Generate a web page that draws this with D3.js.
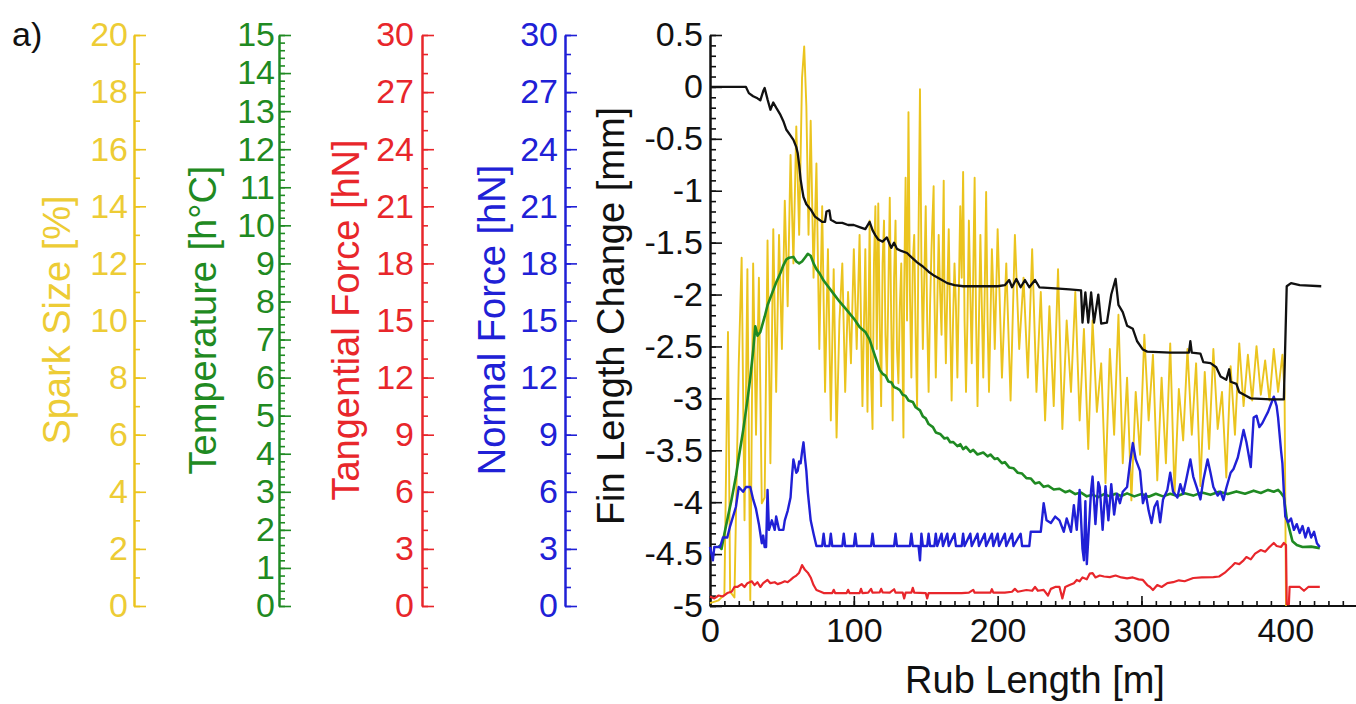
<!DOCTYPE html>
<html><head><meta charset="utf-8">
<script src="https://cdn.jsdelivr.net/npm/d3@7"></script>
<style>
body{margin:0;background:#fff}
svg{display:block}
text{font-family:"Liberation Sans",Arial,sans-serif}
</style>
</head><body>
<svg id="c" width="1356" height="704"></svg>
<script>
// ---------------- DATA ----------------
const sparkTicks = [0,2,4,6,8,10,12,14,16,18,20];
const tempTicks = [0,1,2,3,4,5,6,7,8,9,10,11,12,13,14,15];
const tangTicks = [0,3,6,9,12,15,18,21,24,27,30];
const normTicks = [0,3,6,9,12,15,18,21,24,27,30];
const finTicks = [0.5,0,-0.5,-1,-1.5,-2,-2.5,-3,-3.5,-4,-4.5,-5];
const rubTicks = [0,100,200,300,400];

// [rub length m, fin length change mm]
const finLength = [[0,0],[25,0],[27,-0.06],[30,-0.09],[33,-0.11],[35,-0.13],[37,-0.04],[38,-0.01],[40,-0.12],[42,-0.22],[44,-0.15],[46,-0.2],[49,-0.27],[51,-0.33],[53,-0.41],[56,-0.47],[58,-0.51],[60,-0.58],[61,-0.64],[62,-0.75],[63,-0.89],[64,-0.98],[65,-1.06],[67,-1.13],[70,-1.18],[73,-1.25],[76,-1.28],[78,-1.3],[80,-1.3],[81,-1.2],[83,-1.19],[84,-1.28],[88,-1.31],[92,-1.31],[96,-1.33],[100,-1.33],[104,-1.35],[108,-1.37],[111,-1.3],[113,-1.38],[115,-1.43],[117,-1.47],[120,-1.49],[123,-1.45],[126,-1.55],[128,-1.5],[130,-1.56],[133,-1.58],[137,-1.6],[140,-1.64],[144,-1.69],[148,-1.73],[152,-1.78],[156,-1.82],[160,-1.85],[165,-1.89],[170,-1.91],[176,-1.92],[190,-1.92],[200,-1.92],[205,-1.91],[208,-1.86],[210,-1.93],[213,-1.85],[216,-1.93],[219,-1.86],[222,-1.93],[226,-1.86],[229,-1.93],[240,-1.94],[250,-1.95],[258,-1.96],[259,-2.27],[261,-1.98],[263,-2.27],[265,-1.98],[267,-2.27],[270,-2.0],[272,-2.28],[276,-2.27],[279,-2.0],[282,-1.85],[284,-2.1],[287,-2.17],[290,-2.3],[294,-2.33],[297,-2.45],[301,-2.53],[304,-2.55],[320,-2.56],[333,-2.56],[334,-2.45],[335,-2.56],[341,-2.57],[343,-2.65],[348,-2.66],[352,-2.7],[355,-2.79],[359,-2.82],[361,-2.72],[362,-2.84],[366,-2.86],[368,-2.94],[372,-2.97],[376,-3.0],[390,-3.01],[399,-3.01],[401,-1.92],[404,-1.89],[410,-1.91],[425,-1.92]];

// [rub length m, temperature h°C]
const temperature = [[6,1.6],[8,1.5],[10,1.9],[12.5,2.35],[15,2.8],[18,3.4],[20,3.9],[23,4.6],[26,5.4],[28,6.0],[30,6.7],[31.5,7.35],[33,7.1],[35,7.2],[38,7.6],[40,7.9],[43,8.2],[46,8.5],[49,8.75],[51,8.95],[53,9.1],[55,9.15],[58,9.17],[60,9.05],[62,9.0],[64,9.05],[66,9.15],[68,9.25],[70,9.2],[72,9.0],[74,8.85],[76,8.75],[79,8.55],[82,8.4],[86,8.2],[90,8.0],[95,7.78],[100,7.55],[104,7.33],[108,7.2],[111,7.0],[114,6.65],[118,6.2],[120,6.1],[122,6.05],[124,5.9],[126,5.88],[128,5.75],[130,5.72],[132,5.67],[134,5.55],[136,5.52],[138,5.4],[141,5.36],[143,5.22],[146,5.14],[148,4.98],[150,4.93],[152,4.78],[155,4.7],[157,4.56],[160,4.52],[163,4.4],[165,4.42],[167,4.3],[169,4.31],[172,4.2],[174,4.25],[176,4.12],[178,4.18],[181,4.05],[183,4.1],[186,3.98],[190,4.03],[193,3.93],[195,3.98],[198,3.86],[200,3.88],[203,3.75],[205,3.78],[208,3.64],[211,3.62],[214,3.5],[217,3.48],[220,3.36],[223,3.35],[226,3.22],[229,3.25],[232,3.13],[235,3.16],[239,3.06],[243,3.08],[247,2.99],[250,3.03],[254,2.94],[258,2.98],[262,2.88],[266,2.92],[270,2.86],[274,2.94],[278,2.88],[282,2.95],[286,2.89],[290,2.96],[295,2.88],[300,2.94],[305,2.87],[310,2.95],[315,2.88],[320,2.95],[325,2.89],[330,2.96],[336,2.9],[342,2.98],[348,2.92],[354,3.0],[360,2.94],[366,3.01],[372,2.95],[378,3.03],[383,2.97],[388,3.05],[392,3.0],[395,3.05],[397,2.97],[399,2.86],[401,2.3],[403,2.0],[405,1.7],[408,1.6],[412,1.55],[418,1.56],[424,1.52]];

// [rub length m, tangential force hN]
const tangentialForce = [[0,0.5],[3,0.4],[6,0.55],[9,0.5],[12,0.68],[15,0.75],[17,1.0],[19,1.0],[22,1.15],[24,1.0],[26,1.2],[29,1.3],[31,1.1],[33,1.25],[35,1.0],[37,1.2],[40,1.37],[42,1.2],[45,1.25],[47,1.15],[49,1.2],[52,1.3],[54,1.25],[56,1.37],[58,1.5],[60,1.6],[62,1.75],[64,2.15],[66,1.9],[68,1.75],[70,1.5],[72,1.1],[74,0.84],[77,0.75],[79,0.68],[85,0.68],[86,0.85],[87,0.68],[95,0.68],[96,0.85],[97,0.68],[104,0.68],[105,0.9],[106,0.68],[110,0.7],[112,0.9],[113,0.7],[118,0.72],[119,0.9],[120,0.72],[125,0.7],[128,0.88],[129,0.7],[134,0.7],[135,0.4],[136,0.7],[140,0.7],[141,0.95],[142,0.7],[150,0.68],[151,0.4],[152,0.68],[160,0.68],[170,0.68],[175,0.68],[180,0.7],[183,0.85],[184,0.7],[190,0.7],[195,0.7],[196,0.88],[197,0.7],[205,0.7],[210,0.75],[212,0.9],[214,0.75],[220,0.84],[224,0.8],[226,1.0],[228,0.8],[232,0.85],[235,0.55],[237,0.9],[240,1.0],[243,1.0],[245,0.4],[247,1.0],[250,1.1],[253,1.2],[255,1.37],[257,1.3],[259,1.5],[262,1.4],[264,1.7],[266,1.73],[268,1.5],[271,1.6],[274,1.55],[278,1.52],[282,1.6],[286,1.5],[290,1.45],[294,1.5],[298,1.4],[301,1.37],[304,1.1],[306,1.0],[308,0.84],[311,1.1],[314,1.0],[318,1.2],[322,1.25],[326,1.35],[330,1.3],[336,1.47],[342,1.5],[350,1.52],[354,1.55],[358,1.75],[360,1.89],[363,2.1],[365,2.26],[368,2.2],[371,2.4],[373,2.57],[376,2.45],[379,2.75],[383,2.94],[386,2.85],[389,3.1],[392,3.31],[394,3.15],[397,3.1],[399,3.31],[400.5,3.2],[401,0.1],[402.5,0.1],[403,1.0],[410,1.0],[413,0.8],[416,1.0],[424,1.0]];

// [rub length m, normal force hN]
const normalForce = [[0,3.1],[2,2.4],[3,3.1],[7,3.1],[9,3.6],[12,3.6],[14,4.2],[16,4.7],[18,5.2],[20,6.25],[23,6.0],[25,6.25],[28,6.25],[30,5.6],[32,5.1],[34,4.3],[36,3.3],[37,3.7],[38,3.1],[39,3.1],[40,6.1],[41,4.0],[43,4.5],[45,4.0],[46,4.7],[48,4.0],[51,4.0],[52,4.5],[54,5.0],[56,5.7],[57,6.8],[58,7.7],[60,7.0],[61,7.1],[62,7.6],[63,7.5],[64,8.1],[65,8.6],[66,7.8],[67,7.1],[68,6.0],[70,4.5],[72,3.8],[74,3.15],[78,3.15],[79,3.8],[80,3.15],[83,3.15],[84,3.8],[85,3.15],[92,3.15],[93,3.8],[94,3.15],[100,3.15],[101,3.8],[102,3.15],[112,3.15],[113,3.8],[114,3.15],[128,3.15],[129,3.8],[130,3.15],[139,3.15],[140,3.8],[141,3.15],[145,3.15],[146,2.4],[147,3.8],[148,3.15],[151,3.15],[152,3.8],[153,3.15],[156,3.15],[157,3.8],[158,3.15],[161,3.8],[162,3.15],[165,3.8],[166,3.15],[170,3.8],[171,3.15],[175,3.15],[176,3.8],[177,3.15],[181,3.8],[182,3.15],[186,3.8],[187,3.15],[191,3.8],[192,3.15],[196,3.8],[197,3.15],[200,3.8],[201,3.15],[205,3.8],[206,3.15],[210,3.8],[211,3.15],[216,3.8],[217,3.15],[222,3.15],[223,3.9],[230,3.9],[232,5.4],[234,4.5],[237,4.36],[240,4.7],[243,4.5],[246,3.9],[248,4.6],[251,3.9],[253,5.3],[255,4.0],[257,6.1],[259,3.0],[260,2.4],[261,5.5],[262,2.2],[263,3.5],[265,6.1],[266,6.8],[268,4.3],[270,6.5],[271,6.25],[273,4.0],[275,6.3],[277,4.5],[279,6.4],[281,4.8],[283,5.9],[285,5.4],[287,6.0],[290,6.25],[292,7.5],[294,8.56],[296,7.7],[299,7.1],[301,5.4],[303,5.9],[305,5.0],[307,4.36],[309,5.2],[311,5.5],[313,4.4],[315,5.6],[318,6.1],[320,7.0],[322,6.0],[325,5.7],[327,6.4],[329,5.9],[331,6.6],[334,7.7],[336,6.8],[339,6.1],[341,5.6],[343,6.6],[346,7.7],[348,7.0],[350,6.25],[353,5.8],[355,6.0],[357,5.57],[359,6.2],[362,7.0],[364,7.2],[367,7.8],[369,8.5],[371,9.25],[373,8.6],[376,7.3],[378,9.9],[380,10.0],[382,9.4],[384,9.6],[386,9.9],[388,10.2],[390,10.6],[392,11.0],[394,10.5],[395,9.9],[397,8.2],[398,7.5],[399,6.0],[400,4.7],[402,4.4],[404,4.6],[406,4.0],[408,4.3],[410,3.84],[412,4.2],[414,3.6],[416,4.1],[418,3.6],[420,3.9],[422,3.3],[424,3.1]];

// [rub length m, spark size %]
const sparkSize = [[0,0.1],[6,0.2],[10,0.4],[12.5,9.6],[14,0.5],[17,0.3],[20,8.5],[22,12.2],[24,3],[26,11.8],[28,0.2],[30,12],[32,6],[34,11.5],[36,3.6],[38,3.8],[40,12.8],[42,5],[44,13.2],[46,7.5],[48,13],[50,9],[52,14.2],[54,10.5],[56,15.8],[58,12],[60,16.8],[62,13],[64,18.5],[65.5,19.6],[67,17.5],[68.5,13],[70,17],[72,11.5],[74,15.5],[76,9],[78,14],[80,7.5],[82,12.5],[84,6.5],[86,11.8],[88,5.9],[90,10],[92,12],[94,7.5],[96,11],[98,8.5],[100,12.5],[102,9],[104,13],[106,7],[108,12.5],[109.5,6.8],[111,13.5],[112,8],[113,6.2],[114,12],[115,14],[116,9],[117,14.1],[118,10],[119,7],[120,12],[121,13.5],[122,9.5],[123,8],[124,11],[125,14.3],[126,10],[127,6.5],[128,11.5],[129,13.5],[130,9],[131,7.8],[132,10.5],[133,12],[134,8],[134.5,5.9],[135,11],[136,15],[137,10],[138,17.3],[139,11],[140,8],[141,12],[142,13],[143,9.5],[144,7],[145,13],[146,18.1],[147,12],[148,9],[149,11.5],[150,14],[151,10],[152,7.5],[153,10.5],[154,12.5],[155.5,14.7],[156,11],[157,8],[158,10.5],[159,13],[160,11],[161,9.5],[162.5,14.9],[163,11],[164,8.5],[165,11],[166,13.2],[167,10],[168,7.2],[169,10],[170,12],[171,10.5],[172,8],[173,11],[174,14],[175,11.5],[176,15.2],[177,10],[178,7.5],[179,10],[180,13.5],[181,11],[182,8.5],[183,11.5],[184,15],[185,10],[186,7],[187,10],[188,13],[189,10.5],[190,8],[191,11],[192,14.5],[193,10],[194,7.5],[195,10],[196,12.5],[197,11],[198,9],[199,11],[200,13.2],[203,8],[206,12],[209,7.2],[212,13],[215,9],[218,11.5],[221,8],[224,12.5],[227,7.5],[230,11],[233,6.5],[236,10.5],[239,7],[242,11.8],[245,6.2],[248,10],[251,7.5],[254,11],[257,6.5],[260,9.7],[263,5.5],[266,10],[269,6.8],[272,8.5],[275,4.3],[278,9],[281,6],[284,10.2],[287,5],[290,8],[293,3.7],[296,7.5],[299,5.3],[302,9.5],[305,6.5],[308,8.8],[311,4.4],[314,8],[317,5],[320,9.2],[323,3.9],[326,7.6],[329,5.8],[332,9],[335,6],[338,8.5],[341,4.2],[344,8.2],[347,5.5],[350,9],[353,6.2],[356,7.5],[359,4.5],[362,8.4],[365,6],[368,9.2],[371,7],[374,8.8],[377,7.2],[380,9.1],[383,7.4],[386,8.6],[389,7.2],[392,9],[395,7.5],[398,8.8],[399.5,7.5],[400.5,0]];

// ---------------- LAYOUT / STYLE ----------------
const C = {spark:"#EBC41E", sparkText:"#EDCC35", temp:"#1F8A22", tang:"#E8262B", norm:"#2020D6", fin:"#111111"};
const TICK_FS = 34, TITLE_FS = 38;
const yTop = 35, yBot = 606;

const svg = d3.select("#c");

const x = d3.scaleLinear().domain([0, 445]).range([710, 1350]);
const ySpark = d3.scaleLinear().domain([0, 20]).range([yBot, yTop]);
const yTemp = d3.scaleLinear().domain([0, 15]).range([yBot, yTop]);
const yTang = d3.scaleLinear().domain([0, 30]).range([yBot, yTop]);
const yNorm = d3.scaleLinear().domain([0, 30]).range([yBot, yTop]);
const yFin = d3.scaleLinear().domain([-5, 0.5]).range([yBot, yTop]);

function styleAxis(g, color, textColor) {
  g.select(".domain").attr("stroke", color).attr("stroke-width", 2);
  g.selectAll(".tick line").attr("stroke", color).attr("stroke-width", 1.6);
  g.selectAll(".tick text").attr("fill", textColor || color).style("font-size", TICK_FS + "px")
    .style("font-family", '"Liberation Sans", Arial, sans-serif');
}

function leftAxis(xPos, scale, majors, minors, color, pad, textColor) {
  const gMin = svg.append("g").attr("transform", `translate(${xPos},0)`);
  gMin.call(d3.axisLeft(scale).tickValues(minors).tickSizeInner(-6).tickSizeOuter(0).tickFormat(""));
  styleAxis(gMin, color);
  const gMaj = svg.append("g").attr("transform", `translate(${xPos},0)`);
  gMaj.call(d3.axisLeft(scale).tickValues(majors).tickSizeInner(-12).tickSizeOuter(0)
    .tickPadding(pad).tickFormat(d => String(d)));
  styleAxis(gMaj, color, textColor);
  return gMaj;
}

function title(txt, cx, cy, color) {
  svg.append("text")
    .attr("transform", `translate(${cx},${cy}) rotate(-90)`)
    .attr("text-anchor", "middle").attr("dy", "0.35em")
    .attr("fill", color).style("font-size", TITLE_FS + "px")
    .text(txt);
}

// panel label
svg.append("text").attr("x", 12).attr("y", 46).attr("fill", "#111")
  .style("font-size", "34px").text("a)");

// left stacked axes
leftAxis(134, ySpark, sparkTicks, d3.range(0, 20.001, 1), C.spark, 6, C.sparkText);
title("Spark Size [%]", 57, 320, C.sparkText);

leftAxis(279, yTemp, tempTicks, d3.range(0, 15.001, 0.2), C.temp, 4);
title("Temperature [h°C]", 203, 320, C.temp);

leftAxis(422, yTang, tangTicks, d3.range(0, 30.001, 1), C.tang, 8);
title("Tangential Force [hN]", 346, 320, C.tang);

leftAxis(565, yNorm, normTicks, d3.range(0, 30.001, 1), C.norm, 7);
title("Normal Force [hN]", 492, 320, C.norm);

// main y axis
leftAxis(710, yFin, finTicks, d3.range(-5, 0.5001, 0.1), C.fin, 7);
title("Fin Length Change [mm]", 611, 316, C.fin);

// x axis
const gxMin = svg.append("g").attr("transform", `translate(0,${yBot})`);
gxMin.call(d3.axisBottom(x).tickValues(d3.range(0, 441, 10)).tickSizeInner(-5).tickSizeOuter(0).tickFormat(""));
styleAxis(gxMin, C.fin);
gxMin.select(".domain").attr("d", `M710,0H1356`);
const gx = svg.append("g").attr("transform", `translate(0,${yBot})`);
gx.call(d3.axisBottom(x).tickValues(rubTicks).tickSizeInner(-10).tickSizeOuter(0).tickPadding(12).tickFormat(d => String(d)));
styleAxis(gx, C.fin);
gx.select(".domain").attr("d", `M710,0H1356`);

svg.append("text").attr("x", 1035).attr("y", 693).attr("text-anchor", "middle")
  .attr("fill", "#111").style("font-size", TITLE_FS + "px").text("Rub Length [m]");

// series
function drawLine(data, yScale, color, width) {
  svg.append("path").datum(data)
    .attr("fill", "none").attr("stroke", color).attr("stroke-width", width)
    .attr("stroke-linejoin", "round")
    .attr("d", d3.line().x(d => x(d[0])).y(d => yScale(d[1])));
}
drawLine(sparkSize, ySpark, C.spark, 1.9);
drawLine(temperature, yTemp, C.temp, 2.6);
drawLine(tangentialForce, yTang, C.tang, 2.2);
drawLine(normalForce, yNorm, C.norm, 2.4);
drawLine(finLength, yFin, C.fin, 2.3);
</script>
</body></html>
